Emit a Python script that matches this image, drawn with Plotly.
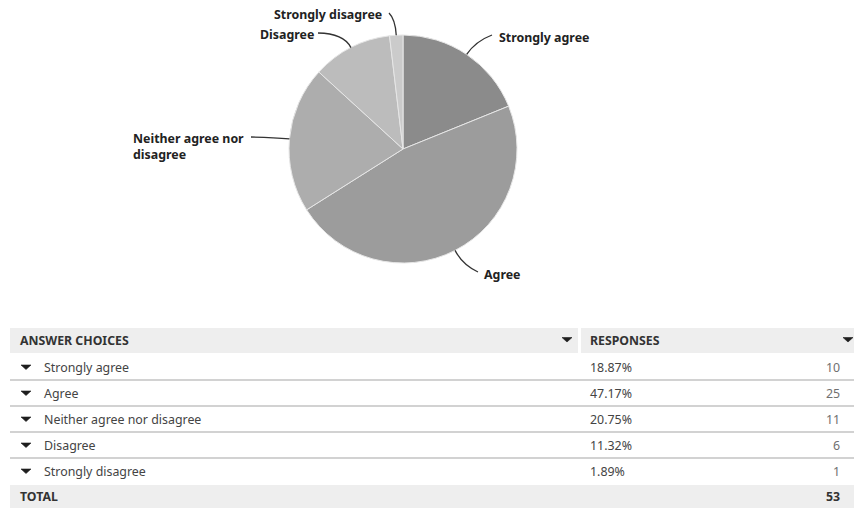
import math
import plotly.graph_objects as go

# Survey results
choices = ["Strongly agree", "Agree", "Neither agree nor disagree", "Disagree", "Strongly disagree"]
percents = [18.87, 47.17, 20.75, 11.32, 1.89]
counts = [10, 25, 11, 6, 1]
total = 53
slice_colors = ["#8b8b8b", "#9c9c9c", "#adadad", "#bcbcbc", "#cbcbcb"]

W, H = 854, 508


def px(x):
    return x / W


def py(y):
    return 1 - y / H


# pie geometry in pixels
cx, cy, r = 403, 149, 114

fig = go.Figure()
fig.add_trace(go.Pie(
    labels=choices,
    values=counts,
    sort=False,
    direction="clockwise",
    rotation=0,
    textinfo="none",
    hoverinfo="label+percent",
    showlegend=False,
    marker=dict(colors=slice_colors, line=dict(color="#e6e6e6", width=1)),
    domain=dict(x=[px(cx - r), px(cx + r)], y=[py(cy + r), py(cy - r)]),
))

# outside labels: text position, anchor, leader-line end point
label_text = ["Strongly agree", "Agree", "Neither agree nor<br>disagree", "Disagree", "Strongly disagree"]
label_pos = [
    dict(x=497, y=38, anchor="left", end=(492, 35)),
    dict(x=482, y=274, anchor="left", end=(478, 272)),
    dict(x=131, y=147, anchor="left", end=(251, 137)),
    dict(x=258, y=35, anchor="left", end=(318, 33)),
    dict(x=272, y=15, anchor="left", end=(389, 13)),
]

shapes = []
annotations = []
lab_font = dict(family="Noto Sans", size=12.4, color="#222222", weight="bold")

cum = 0.0
for i, v in enumerate(counts):
    frac_mid = (cum + v / 2) / total
    cum += v
    th = 2 * math.pi * frac_mid
    ux, uy = math.sin(th), -math.cos(th)
    ex, ey = cx + r * ux, cy + r * uy
    qx, qy = ex + 16 * ux, ey + 16 * uy
    lx, ly = label_pos[i]["end"]
    shapes.append(dict(
        type="path", xref="paper", yref="paper",
        path=f"M {px(ex)} {py(ey)} Q {px(qx)} {py(qy)} {px(lx)} {py(ly)}",
        line=dict(color="#333333", width=1.3),
    ))
    annotations.append(dict(
        x=px(label_pos[i]["x"]), y=py(label_pos[i]["y"]), xref="paper", yref="paper",
        xanchor=label_pos[i]["anchor"], yanchor="middle", align="left",
        text=label_text[i], showarrow=False, font=lab_font,
    ))

# ---- response table ----
t_left, col_split, t_right = 10, 579, 854
head_top, head_bot = 328, 353
row_h = 26
total_top = 485

hdr_font = dict(family="Noto Sans", size=12.3, color="#333333", weight="bold")
cell_font = dict(family="Noto Sans", size=12.4, color="#444444")
num_font = dict(family="Noto Sans", size=12.4, color="#707070")


def caret(x, y):
    # small flat drop-down triangle centred on (x, y)
    return dict(type="path", xref="paper", yref="paper",
                path=(f"M {px(x - 5)} {py(y - 2)} L {px(x + 5)} {py(y - 2)} "
                      f"L {px(x)} {py(y + 2.5)} Z"),
                fillcolor="#1e1e1e", line=dict(color="#1e1e1e", width=0.6))


# header cells
shapes.append(dict(type="rect", xref="paper", yref="paper", layer="below",
                   x0=px(t_left), x1=px(col_split - 1), y0=py(head_bot), y1=py(head_top),
                   fillcolor="#eeeeee", line=dict(width=0)))
shapes.append(dict(type="rect", xref="paper", yref="paper", layer="below",
                   x0=px(col_split + 2), x1=px(t_right), y0=py(head_bot), y1=py(head_top),
                   fillcolor="#eeeeee", line=dict(width=0)))
hy = (head_top + head_bot) / 2
annotations += [
    dict(x=px(18), y=py(hy), text="ANSWER CHOICES", font=hdr_font),
    dict(x=px(588), y=py(hy), text="RESPONSES", font=hdr_font),
]
shapes += [caret(567, hy - 1), caret(848, hy - 1)]

for i, name in enumerate(choices):
    top = head_bot + i * row_h
    mid = top + row_h / 2 + 1
    if i > 0:
        shapes.append(dict(type="line", xref="paper", yref="paper",
                           x0=px(t_left), x1=px(t_right), y0=py(top + 1), y1=py(top + 1),
                           line=dict(color="#d2d2d2", width=2)))
    shapes.append(caret(26, mid))
    annotations += [
        dict(x=px(42), y=py(mid), text=name, font=cell_font),
        dict(x=px(588), y=py(mid), text=f"{percents[i]:.2f}%", font=cell_font),
        dict(x=px(842), y=py(mid), text=str(counts[i]), font=num_font, xanchor="right"),
    ]

# total row
shapes.append(dict(type="rect", xref="paper", yref="paper", layer="below",
                   x0=px(t_left), x1=px(t_right), y0=py(H), y1=py(total_top),
                   fillcolor="#eeeeee", line=dict(width=0)))
ty = (total_top + H) / 2
annotations += [
    dict(x=px(18), y=py(ty), text="TOTAL", font=hdr_font),
    dict(x=px(842), y=py(ty), text=str(total), font=hdr_font, xanchor="right"),
]

for a in annotations:
    a.setdefault("xref", "paper")
    a.setdefault("yref", "paper")
    a.setdefault("xanchor", "left")
    a.setdefault("yanchor", "middle")
    a.setdefault("showarrow", False)

fig.update_layout(
    width=W, height=H,
    margin=dict(l=0, r=0, t=0, b=0),
    paper_bgcolor="white",
    plot_bgcolor="white",
    shapes=shapes,
    annotations=annotations,
)

fig.write_html("out.html")
